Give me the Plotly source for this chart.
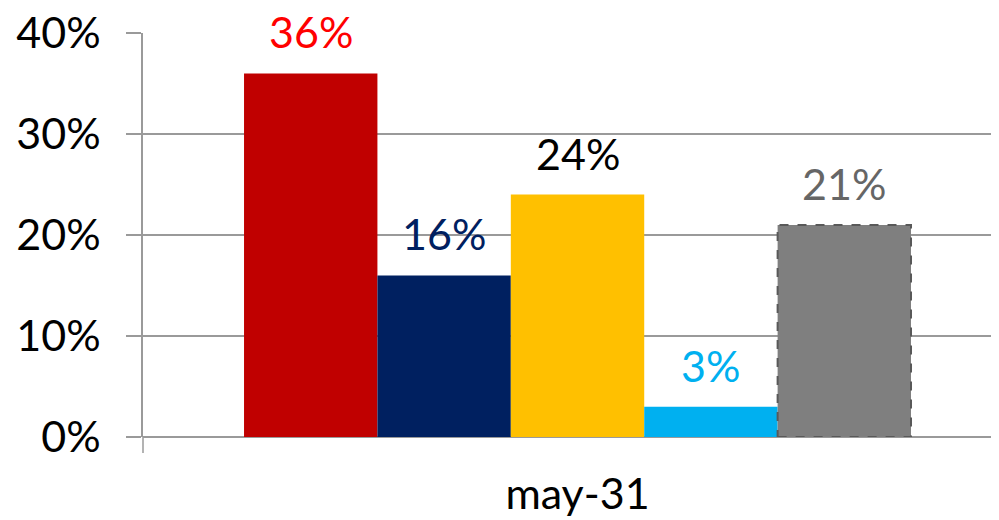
import plotly.graph_objects as go

categories = ["may-31"]
series_names = ["A", "B", "C", "D", "E"]
series_values = [[0.36], [0.16], [0.24], [0.03], [0.21]]
bar_colors = ["#C00000", "#002060", "#FFC000", "#00B0F0", "#7F7F7F"]
label_colors = ["#FF0000", "#002060", "#000000", "#00B0F0", "#666666"]
tick_vals = [0, 0.1, 0.2, 0.3, 0.4]
tick_text = ["0%", "10%", "20%", "30%", "40%"]

FONT = "Lato"
FS = 43
BARGAP = 0.2325
N = len(series_names)

fig = go.Figure()
for i, name in enumerate(series_names):
    fig.add_trace(go.Bar(
        x=categories, y=series_values[i], name=name,
        marker=dict(color=bar_colors[i], line=dict(width=0)),
        cliponaxis=False,
    ))

w = (1 - BARGAP) / N
shapes = [dict(type="line", xref="paper", yref="paper", x0=0, x1=0, y0=0, y1=-0.0396,
               line=dict(color="#9A9A9A", width=1.5))]
annotations = []
for ci, cat in enumerate(categories):
    for i in range(N):
        v = series_values[i][ci]
        xc = ci - (1 - BARGAP) / 2 + (i + 0.5) * w
        annotations.append(dict(x=xc, y=v, xref="x", yref="y", text=f"{round(v*100)}%",
                                showarrow=False, yanchor="bottom", yshift=14,
                                font=dict(color=label_colors[i], size=FS, family=FONT)))
    v = series_values[N - 1][ci]
    x0 = ci - (1 - BARGAP) / 2 + (N - 1) * w
    shapes.append(dict(type="rect", xref="x", yref="y", x0=x0, x1=x0 + w, y0=0, y1=v,
                       line=dict(color="#595959", width=2, dash="dash"),
                       fillcolor="rgba(0,0,0,0)"))

fig.update_layout(
    width=999, height=520,
    margin=dict(l=135, r=8, t=25, b=91),
    plot_bgcolor="white", paper_bgcolor="white",
    showlegend=False,
    barmode="group", bargap=BARGAP, bargroupgap=0,
    font=dict(family=FONT, size=FS, color="#000000"),
    xaxis=dict(range=[-0.5, 0.485], showgrid=False, ticks="", showline=False,
               automargin=False, ticklabeloverflow="allow",
               tickfont=dict(size=FS, family=FONT), ticklabelstandoff=28),
    yaxis=dict(range=[0, 0.4], tickvals=tick_vals, ticktext=tick_text,
               showgrid=True, gridcolor="#9A9A9A", gridwidth=1.5,
               showline=True, linecolor="#9A9A9A", linewidth=1.5,
               ticks="outside", ticklen=15, tickcolor="#9A9A9A", tickwidth=1.5,
               zeroline=True, zerolinecolor="#9A9A9A", zerolinewidth=1.5,
               automargin=False, ticklabeloverflow="allow",
               tickfont=dict(size=FS, family=FONT), ticklabelstandoff=17),
    shapes=shapes,
    annotations=annotations,
)
fig.write_html("out.html")
